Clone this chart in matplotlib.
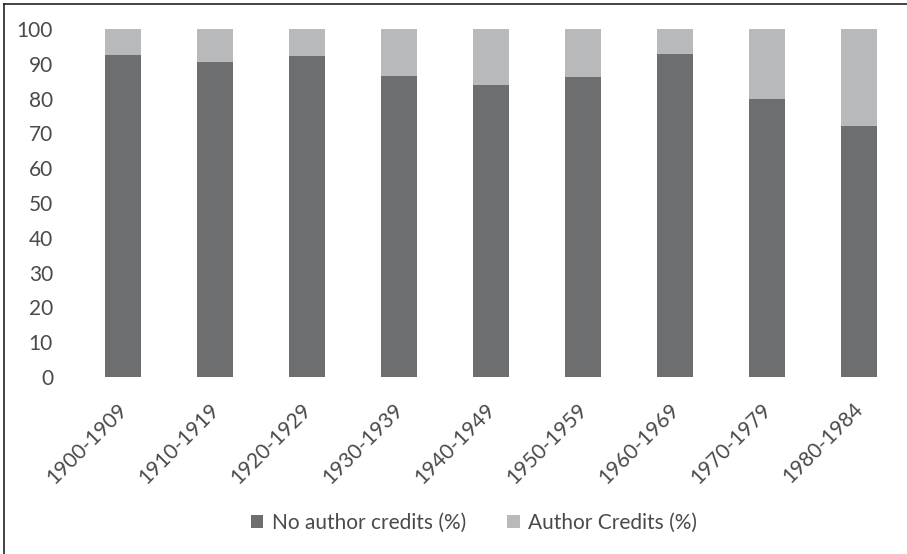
import matplotlib
matplotlib.use('Agg')
import matplotlib.pyplot as plt
import matplotlib.transforms as mtransforms
from matplotlib.lines import Line2D

# ── Data ───────────────────────────────────────────────
periods = ['1900-1909', '1910-1919', '1920-1929', '1930-1939', '1940-1949',
           '1950-1959', '1960-1969', '1970-1979', '1980-1984']
no_credits = [92.5, 90.4, 92.2, 86.4, 83.9, 86.1, 92.9, 80.0, 72.1]
credits = [100 - v for v in no_credits]

DARK = '#6d6e70'
LIGHT = '#b8b9bb'
TEXT = '#4a4a4a'

plt.rcParams['font.family'] = ['Lato', 'DejaVu Sans']

fig = plt.figure(figsize=(9.07, 5.54), dpi=100)
W, H = 907, 554
ax = fig.add_axes([78 / W, 1 - 377 / H, (900 - 78) / W, (377 - 29) / H])

x = range(len(periods))
ax.bar(x, no_credits, width=0.39, color=DARK, label='No author credits (%)')
ax.bar(x, credits, width=0.39, bottom=no_credits, color=LIGHT, label='Author Credits (%)')

ax.set_xlim(-0.49, 8.45)
ax.set_ylim(0, 100)
ax.set_yticks(range(0, 101, 10))
ax.set_xticks(list(x))
ax.set_xticklabels(periods, rotation=45, ha='right', rotation_mode='anchor')
ax.tick_params(axis='both', length=0, labelsize=15, colors=TEXT)
ax.tick_params(axis='x', pad=16)
ax.tick_params(axis='y', pad=18)

# nudge the rotated labels slightly left
shift = mtransforms.ScaledTranslation(-6 / 100, 0, fig.dpi_scale_trans)
for lbl in ax.get_xticklabels():
    lbl.set_transform(lbl.get_transform() + shift)
for s in ax.spines.values():
    s.set_visible(False)

fig.legend(loc='center', bbox_to_anchor=(474 / W, 1 - 523 / H), ncol=2, frameon=False,
           fontsize=15, labelcolor=TEXT, handlelength=0.6, handleheight=0.6,
           handletextpad=0.4, columnspacing=2.0)

# outer frame (top and left edges visible)
fig.add_artist(Line2D([4 / W, 1], [1 - 4 / H, 1 - 4 / H], color='#222222', lw=1.2,
                      transform=fig.transFigure))
fig.add_artist(Line2D([4 / W, 4 / W], [0, 1 - 4 / H], color='#222222', lw=1.2,
                      transform=fig.transFigure))

fig.savefig('out.png', dpi=100, facecolor='white')
